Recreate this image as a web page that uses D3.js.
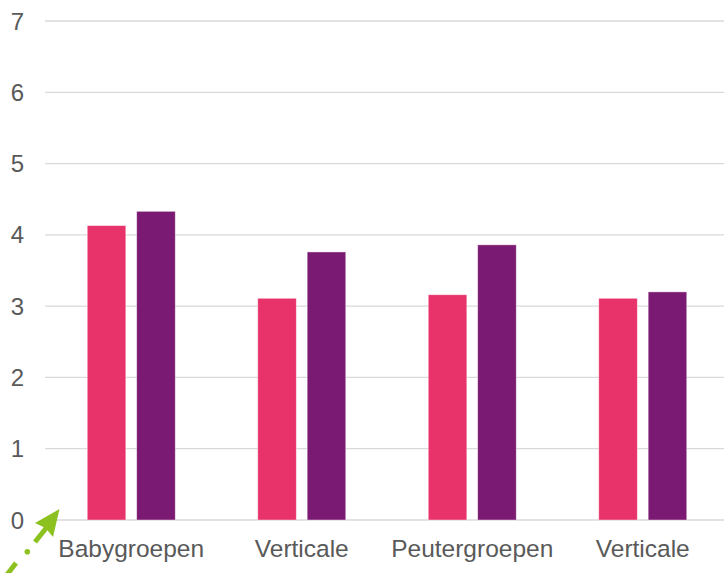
<!DOCTYPE html>
<html>
<head>
<meta charset="utf-8">
<script src="https://cdn.jsdelivr.net/npm/d3@7"></script>
<style>
	body { margin: 0; background: #fff; }
	svg { display: block; font-family: 'Liberation Sans', Arial, sans-serif; }
</style>
</head>
<body>
<svg id="chart"></svg>
<script>
const categories = ['Babygroepen', 'Verticale', 'Peutergroepen', 'Verticale '];
const seriesA = [4.13, 3.11, 3.16, 3.11];
const seriesB = [4.33, 3.76, 3.86, 3.20];
const yTicks = [0, 1, 2, 3, 4, 5, 6, 7];

const width = 724;
const height = 573;
const colors = ['#e8336a', '#7b1a72'];

const svg = d3.select('#chart').attr('width', width)
	.attr('height', height);

const x = d3.scaleBand().domain(categories)
	.range([46, 728]);
const y = d3.scaleLinear().domain([0, 7])
	.range([520, 21]);
const inner = d3.scaleBand().domain([0, 1])
	.range([x.bandwidth() / 2 - 44, x.bandwidth() / 2 + 44])
	.paddingInner(0.22);

// gridlines + y labels
svg.append('g')
	.selectAll('line')
	.data(yTicks)
	.join('line')
	.attr('x1', 45)
	.attr('x2', width)
	.attr('y1', (d) => y(d))
	.attr('y2', (d) => y(d))
	.attr('stroke', '#d9d9d9')
	.attr('stroke-width', 1.3);

svg.append('g')
	.selectAll('text')
	.data(yTicks)
	.join('text')
	.attr('x', 24)
	.attr('y', (d) => y(d) + 8.5)
	.attr('text-anchor', 'end')
	.attr('font-size', '24px')
	.attr('fill', '#595959')
	.text((d) => d);

const rows = categories.map((c, i) => ({ cat: c, vals: [seriesA[i], seriesB[i]] }));

const groups = svg.append('g')
	.selectAll('g')
	.data(rows)
	.join('g')
	.attr('transform', (d) => `translate(${ x(d.cat) },0)`);

groups.selectAll('rect')
	.data((d) => d.vals)
	.join('rect')
	.attr('x', (d, i) => inner(i))
	.attr('width', inner.bandwidth())
	.attr('y', (d) => y(d))
	.attr('height', (d) => y(0) - y(d))
	.attr('fill', (d, i) => colors[i])
	.attr('stroke', '#fff')
	.attr('stroke-opacity', 0.5)
	.attr('stroke-width', 0.8);

groups.append('text')
	.attr('x', x.bandwidth() / 2)
	.attr('y', 557)
	.attr('text-anchor', 'middle')
	.attr('font-size', '24.5px')
	.attr('fill', '#595959')
	.text((d) => d.cat.trim());

// green dash-dot arrow in the corner
const green = '#8cc11f';
const arrow = svg.append('g')
	.attr('stroke', green)
	.attr('stroke-width', 5)
	.attr('fill', 'none');

arrow.append('path').attr('d', 'M6,576 L16,563');
arrow.append('path').attr('d', 'M35,542 L47,527');
arrow.append('circle')
	.attr('cx', 27.3)
	.attr('cy', 551.7)
	.attr('r', 2.8)
	.attr('stroke', 'none')
	.attr('fill', green);
arrow.append('path')
	.attr('d', 'M59.5,509 L35,523 L45.5,528 L53,537 Z')
	.attr('stroke', 'none')
	.attr('fill', green);
</script>
</body>
</html>
